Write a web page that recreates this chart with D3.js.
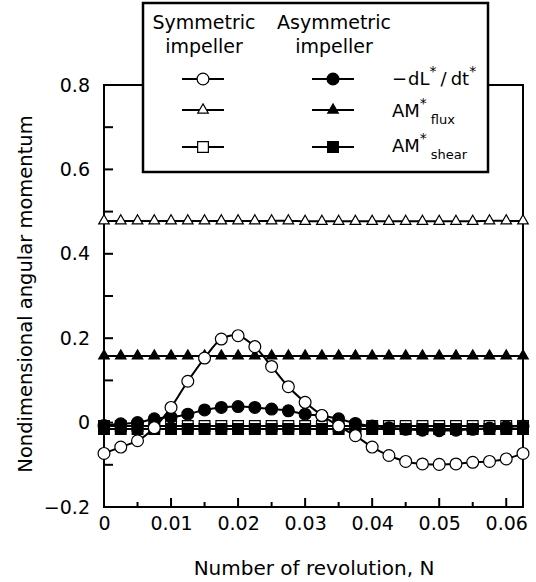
<!DOCTYPE html>
<html>
<head>
<meta charset="utf-8">
<script src="https://cdn.jsdelivr.net/npm/d3@7"></script>
<style>
  body { margin: 0; background: #fff; }
  text { font-family: "DejaVu Sans", sans-serif; }
</style>
</head>
<body>
<div id="chart"></div>
<script>
// revolution N, 26 samples from 0 to 1/16
var revN = [0, 0.0025, 0.005, 0.0075, 0.01, 0.0125, 0.015, 0.0175, 0.02, 0.0225, 0.025, 0.0275, 0.03,
            0.0325, 0.035, 0.0375, 0.04, 0.0425, 0.045, 0.0475, 0.05, 0.0525, 0.055, 0.0575, 0.06, 0.0625];

// symmetric impeller
var symDL = [-0.073, -0.058, -0.043, -0.012, 0.036, 0.098, 0.153, 0.198, 0.206, 0.18, 0.133, 0.085, 0.048,
             0.017, -0.008, -0.031, -0.058, -0.078, -0.092, -0.098, -0.099, -0.098, -0.094, -0.092, -0.086, -0.073];
var symFlux = [0.478, 0.478, 0.478, 0.478, 0.478, 0.478, 0.478, 0.478, 0.478, 0.478, 0.478, 0.478, 0.477,
               0.477, 0.477, 0.477, 0.477, 0.477, 0.477, 0.477, 0.477, 0.477, 0.477, 0.478, 0.478, 0.478];
var symShear = [-0.008, -0.008, -0.008, -0.008, -0.008, -0.008, -0.008, -0.008, -0.008, -0.008, -0.008, -0.008, -0.008,
                -0.008, -0.008, -0.008, -0.008, -0.008, -0.008, -0.008, -0.008, -0.008, -0.008, -0.008, -0.008, -0.008];

// asymmetric impeller
var asymDL = [-0.007, -0.003, 0.0, 0.009, 0.013, 0.02, 0.03, 0.036, 0.038, 0.036, 0.032, 0.028, 0.02,
              0.016, 0.009, -0.002, -0.008, -0.012, -0.016, -0.018, -0.019, -0.018, -0.016, -0.013, -0.01, -0.008];
var asymFlux = [0.158, 0.158, 0.158, 0.158, 0.158, 0.158, 0.158, 0.158, 0.158, 0.158, 0.158, 0.158, 0.158,
                0.158, 0.158, 0.158, 0.158, 0.158, 0.158, 0.158, 0.158, 0.158, 0.158, 0.158, 0.158, 0.158];
var asymShear = [-0.015, -0.015, -0.015, -0.015, -0.015, -0.015, -0.015, -0.015, -0.015, -0.015, -0.015, -0.015, -0.015,
                 -0.015, -0.015, -0.015, -0.015, -0.015, -0.015, -0.015, -0.015, -0.015, -0.015, -0.015, -0.015, -0.015];

var xTicks = [0, 0.01, 0.02, 0.03, 0.04, 0.05, 0.06];
var xMinor = [0.005, 0.015, 0.025, 0.035, 0.045, 0.055];
var yTicks = [-0.2, 0, 0.2, 0.4, 0.6, 0.8];
var yMinor = [-0.1, 0.1, 0.3, 0.5, 0.7];

var W = 536, H = 582;
var margin = {top: 85, right: 13, bottom: 75, left: 104},
    width = W - margin.left - margin.right,
    height = H - margin.top - margin.bottom;

var svg = d3.select("#chart").append("svg")
    .attr("width", W).attr("height", H);
var g = svg.append("g")
    .attr("transform", `translate(${margin.left}, ${margin.top})`);

var x = d3.scaleLinear().domain([0, 0.0625]).range([0, width]);
var y = d3.scaleLinear().domain([-0.2, 0.8]).range([height, 0]);

// frame
g.append("rect").attr("width", width).attr("height", height)
  .attr("fill", "none").attr("stroke", "#000").attr("stroke-width", 2);

// y axis, ticks pointing inward
var fmt = d => d === 0 ? "0" : d3.format(".1f")(d).replace("-", "\u2212");
g.append("g")
  .call(d3.axisLeft(y).tickValues(yTicks).tickSize(0).tickPadding(14).tickFormat(fmt))
  .call(a => a.select(".domain").remove())
  .selectAll("text").style("font-size", "19px").style("font-family", "DejaVu Sans");
g.append("g").selectAll("line")
  .data(yTicks.concat(yMinor))
  .join("line")
  .attr("x1", 0).attr("x2", 9)
  .attr("y1", d => y(d)).attr("y2", d => y(d))
  .attr("stroke", "#000").attr("stroke-width", 2);

// x axis
g.append("g").attr("transform", `translate(0, ${height})`)
  .call(d3.axisBottom(x).tickValues(xTicks).tickSize(0).tickPadding(10).tickFormat(d => d === 0 ? "0" : d3.format(".2f")(d)))
  .call(a => a.select(".domain").remove())
  .selectAll("text").style("font-size", "19px").style("font-family", "DejaVu Sans");
g.append("g").selectAll("line")
  .data(xTicks.map(d => [d, 9]).concat(xMinor.map(d => [d, 5])))
  .join("line")
  .attr("x1", d => x(d[0])).attr("x2", d => x(d[0]))
  .attr("y1", height).attr("y2", d => height - d[1])
  .attr("stroke", "#000").attr("stroke-width", 2);

// axis titles
svg.append("text").attr("x", 314).attr("y", 575)
  .attr("text-anchor", "middle").style("font-size", "20px")
  .text("Number of revolution, N");
svg.append("text").attr("transform", "translate(32, 294) rotate(-90)")
  .attr("text-anchor", "middle").style("font-size", "19.5px")
  .text("Nondimensional angular momentum");

// series
var series = [
  {vals: symFlux, shape: "tri", fill: "#fff"},
  {vals: asymFlux, shape: "tri", fill: "#000"},
  {vals: symShear, shape: "sq", fill: "#fff"},
  {vals: asymShear, shape: "sq", fill: "#000"},
  {vals: asymDL, shape: "circ", fill: "#000"},
  {vals: symDL, shape: "circ", fill: "#fff"}
];
var line = d3.line().x(d => x(d[0])).y(d => y(d[1])).curve(d3.curveCatmullRom);
var symFor = {
  circ: d3.symbol(d3.symbolCircle, 110),
  tri: d3.symbol(d3.symbolTriangle, 48),
  sq: d3.symbol(d3.symbolSquare, 115)
};

series.forEach(s => {
  var pts = revN.map((n, i) => [n, s.vals[i]]);
  g.append("path").datum(pts).attr("d", line)
    .attr("fill", "none").attr("stroke", "#000").attr("stroke-width", 2);
  g.append("g").selectAll("path").data(pts).join("path")
    .attr("d", symFor[s.shape])
    .attr("transform", d => `translate(${x(d[0])}, ${y(d[1])})`)
    .attr("fill", s.fill).attr("stroke", "#000").attr("stroke-width", 1.2);
});

// legend
var lg = svg.append("g");
lg.append("rect").attr("x", 143).attr("y", 3).attr("width", 345).attr("height", 169)
  .attr("fill", "#fff").attr("stroke", "#000").attr("stroke-width", 2.5);
var heads = [["Symmetric", "impeller", 204], ["Asymmetric", "impeller", 334]];
heads.forEach(h => {
  lg.append("text").attr("x", h[2]).attr("y", 29).attr("text-anchor", "middle")
    .style("font-size", "19px").text(h[0]);
  lg.append("text").attr("x", h[2]).attr("y", 53).attr("text-anchor", "middle")
    .style("font-size", "19px").text(h[1]);
});
var rows = [
  {shape: "circ", y: 79, base: 85},
  {shape: "tri", y: 110, base: 117},
  {shape: "sq", y: 147, base: 152}
];
rows.forEach(r => {
  [[203, "#fff"], [333, "#000"]].forEach(c => {
    lg.append("line").attr("x1", c[0] - 21).attr("x2", c[0] + 21)
      .attr("y1", r.y).attr("y2", r.y).attr("stroke", "#000").attr("stroke-width", 2);
    lg.append("path").attr("d", symFor[r.shape])
      .attr("transform", `translate(${c[0]}, ${r.y})`)
      .attr("fill", c[1]).attr("stroke", "#000").attr("stroke-width", 1.2);
  });
});

// row labels
var t1 = lg.append("text").attr("x", 392).attr("y", rows[0].base).style("font-size", "18px");
t1.append("tspan").text("\u2212");
t1.append("tspan").attr("dx", 1).text("dL");
t1.append("tspan").attr("dy", -9).style("font-size", "14px").text("*");
t1.append("tspan").attr("dy", 9).attr("dx", 4).text("/");
t1.append("tspan").attr("dx", 4).text("dt");
t1.append("tspan").attr("dy", -9).style("font-size", "14px").text("*");

[[rows[1], "flux"], [rows[2], "shear"]].forEach(p => {
  var t = lg.append("text").attr("x", 392).attr("y", p[0].base).style("font-size", "18px");
  t.append("tspan").text("AM");
  t.append("tspan").attr("dy", -9).style("font-size", "14px").text("*");
  t.append("tspan").attr("dy", 16).attr("dx", 4).style("font-size", "13px").text(p[1]);
});
</script>
</body>
</html>
